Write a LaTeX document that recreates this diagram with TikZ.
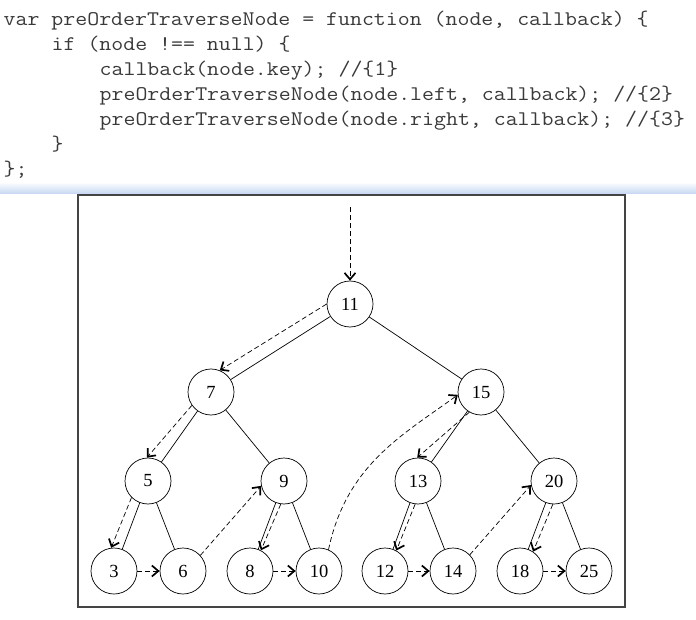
\documentclass[tikz,border=0pt]{standalone}
\usepackage{fontspec}
\usepackage{graphicx}
\setmainfont{Liberation Serif}
\usetikzlibrary{arrows.meta}
\definecolor{codegray}{HTML}{3A3A3A}
\definecolor{bandblue}{RGB}{196,214,242}
\definecolor{framegray}{HTML}{444444}
\newcommand\codetext[1]{\scalebox{1.115}[1.0]{#1}}
\tikzset{
  tnode/.style={circle, draw, line width=0.7pt, minimum size=46pt, inner sep=0pt,
    font=\fontsize{18.5}{18.5}\selectfont},
  edge/.style={line width=0.7pt},
  walk/.style={line width=0.7pt, dash pattern=on 5pt off 3pt,
    -{Straight Barb[length=6.5pt,width=11pt,line width=1.7pt]}},
  codeline/.style={anchor=base west, inner sep=0pt, text=codegray,
    font=\ttfamily\fontsize{20.8}{25}\selectfont}
}
\begin{document}
\begin{tikzpicture}[x=1pt,y=-1pt]
\useasboundingbox (0,0) rectangle (696,620);
\fill[white] (0,0) rectangle (696,620);
% code
\node[codeline] (c1) at (3.5,26) {\codetext{var preOrderTraverseNode = function (node, callback) \{}};
\node[codeline] (c2) at (51.5,51) {\codetext{if (node !== null) \{}};
\node[codeline] (c3) at (99.5,76) {\codetext{callback(node.key); //\{1\}}};
\node[codeline] (c4) at (99.5,101) {\codetext{preOrderTraverseNode(node.left, callback); //\{2\}}};
\node[codeline] (c5) at (99.5,126) {\codetext{preOrderTraverseNode(node.right, callback); //\{3\}}};
\node[codeline] (c6) at (51.5,151) {\codetext{\}}};
\node[codeline] (c7) at (3.5,176) {\codetext{\};}};
% separator band
\shade[top color=white, bottom color=bandblue] (0,182) rectangle (696,194);
% frame
\draw[line width=1.5pt, draw=framegray] (78,195) rectangle (625,607);
% nodes
\node[tnode] (n11) at (350,304) {11};
\node[tnode] (n7)  at (211,392) {7};
\node[tnode] (n15) at (481,392) {15};
\node[tnode] (n5)  at (148,481) {5};
\node[tnode] (n9)  at (284,481) {9};
\node[tnode] (n13) at (418,481) {13};
\node[tnode] (n20) at (554,481) {20};
\node[tnode] (n3)  at (114,571) {3};
\node[tnode] (n6)  at (183,571) {6};
\node[tnode] (n8)  at (250,571) {8};
\node[tnode] (n10) at (319,571) {10};
\node[tnode] (n12) at (385,571) {12};
\node[tnode] (n14) at (453,571) {14};
\node[tnode] (n18) at (520,571) {18};
\node[tnode] (n25) at (589,571) {25};
% tree edges
\draw[edge] (n11) -- (n7);
\draw[edge] (n11) -- (n15);
\draw[edge] (n7) -- (n5);
\draw[edge] (n7) -- (n9);
\draw[edge] (n15) -- (n13);
\draw[edge] (n15) -- (n20);
\draw[edge] (n5) -- (n3);
\draw[edge] (n5) -- (n6);
\draw[edge] (n9) -- (n8);
\draw[edge] (n9) -- (n10);
\draw[edge] (n13) -- (n12);
\draw[edge] (n13) -- (n14);
\draw[edge] (n20) -- (n18);
\draw[edge] (n20) -- (n25);
% traversal
\coordinate (start) at (350,207);
\draw[walk] (start) -- (n11.north);
\draw[walk] (n11.180) -- (n7.68);
\draw[walk] (n7.215) -- (n5.93);
\draw[walk] (n5.225) -- (n3.97);
\draw[walk] (n3.east) -- (n6.west);
\draw[walk] (n6.42) -- (n9.192);
\draw[walk] (n9.262) -- (n8.62);
\draw[walk] (n8.east) -- (n10.west);
\draw[walk] (n10.66) .. controls +(18,-85) and +(-55,40) .. (n15.187);
\draw[walk] (n15.240) -- (n13.92);
\draw[walk] (n13.263) -- (n12.61);
\draw[walk] (n12.east) -- (n14.west);
\draw[walk] (n14.44) -- (n20.190);
\draw[walk] (n20.267) -- (n18.56);
\draw[walk] (n18.east) -- (n25.west);
\end{tikzpicture}
\end{document}
